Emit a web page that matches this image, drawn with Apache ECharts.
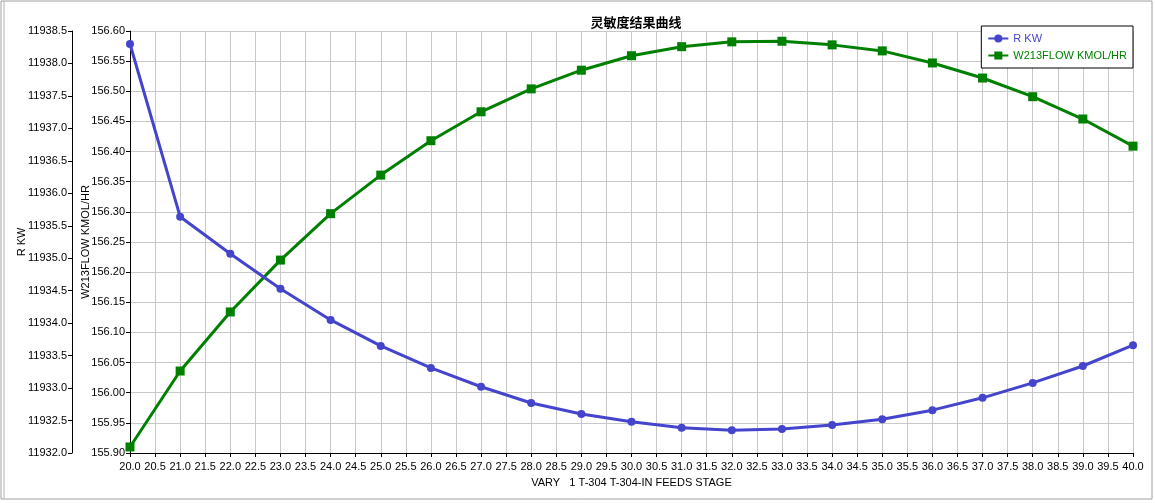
<!DOCTYPE html>
<html>
<head>
<meta charset="utf-8">
<script src="https://cdn.jsdelivr.net/npm/echarts@6/dist/echarts.min.js"></script>
<style>
  html, body { margin: 0; padding: 0; background: #fff; }
  #chart { width: 1155px; height: 503px; }
</style>
</head>
<body>
<div id="chart"></div>
<script>
// ---- data ----
const stages = [20, 21, 22, 23, 24, 25, 26, 27, 28, 29, 30, 31, 32, 33, 34, 35, 36, 37, 38, 39, 40];
const rKW = [11938.30, 11935.64, 11935.07, 11934.53, 11934.05, 11933.65, 11933.31, 11933.02, 11932.77, 11932.60,
             11932.48, 11932.39, 11932.35, 11932.37, 11932.43, 11932.52, 11932.66, 11932.85, 11933.08, 11933.34, 11933.66];
const w213Flow = [155.910, 156.036, 156.134, 156.220, 156.297, 156.361, 156.418, 156.466, 156.504, 156.535,
                  156.559, 156.574, 156.582, 156.583, 156.577, 156.567, 156.547, 156.522, 156.491, 156.454, 156.409];
const titleText = '灵敏度结果曲线';
const seriesNames = ['R KW', 'W213FLOW KMOL/HR'];
const xAxisName = 'VARY   1 T-304 T-304-IN FEEDS STAGE';

const FONT = "'Liberation Sans', Arial, sans-serif";
const BLUE = '#4444cc';
const GREEN = '#008000';

const chart = echarts.init(document.getElementById('chart'), null, { renderer: 'canvas' });
chart.setOption({
  animation: false,
  backgroundColor: '#fff',
  textStyle: { fontFamily: FONT },
  title: {
    text: titleText,
    left: 631, top: 11,
    textAlign: 'center',
    textStyle: { fontSize: 13, fontWeight: 'bold', color: '#000', fontFamily: "'Noto Sans CJK SC', sans-serif" }
  },
  legend: {
    right: 22, top: 26,
    orient: 'vertical',
    backgroundColor: '#fff',
    borderColor: '#000',
    borderWidth: 1,
    borderRadius: 0,
    padding: [7, 6, 7, 6],
    itemGap: 6,
    itemWidth: 20,
    itemHeight: 10,
    textStyle: { fontSize: 11, fontFamily: FONT },
    data: [
      { name: seriesNames[0], textStyle: { color: BLUE } },
      { name: seriesNames[1], textStyle: { color: GREEN } }
    ]
  },
  grid: { left: 130, right: 22, top: 31, bottom: 50, containLabel: false },
  xAxis: {
    type: 'value',
    min: 20, max: 40, interval: 0.5,
    name: xAxisName,
    nameLocation: 'middle',
    nameGap: 24,
    nameMoveOverlap: false,
    nameTextStyle: { fontSize: 11, color: '#000', fontFamily: FONT },
    axisLine: { show: true, lineStyle: { color: '#000', width: 1 } },
    axisTick: { show: true, length: 4, lineStyle: { color: '#000' } },
    axisLabel: { fontSize: 11, color: '#000', margin: 8, formatter: v => v.toFixed(1), showMinLabel: true, showMaxLabel: true },
    splitLine: { show: true, lineStyle: { color: '#c8c8c8', width: 1 } }
  },
  yAxis: [
    {
      type: 'value',
      position: 'left',
      offset: 58,
      min: 11932, max: 11938.5, interval: 0.5,
      name: seriesNames[0],
      nameLocation: 'middle',
      nameGap: 45,
      nameMoveOverlap: false,
      nameTextStyle: { fontSize: 11, color: '#000', fontFamily: FONT },
      axisLine: { show: true, lineStyle: { color: '#000', width: 1 } },
      axisTick: { show: true, length: 4, lineStyle: { color: '#000' } },
      axisLabel: { fontSize: 11, color: '#000', margin: 5, formatter: v => v.toFixed(1) },
      splitLine: { show: false }
    },
    {
      type: 'value',
      position: 'left',
      offset: 0,
      min: 155.90, max: 156.60, interval: 0.05,
      name: seriesNames[1],
      nameLocation: 'middle',
      nameGap: 39,
      nameMoveOverlap: false,
      nameTextStyle: { fontSize: 11, color: '#000', fontFamily: FONT },
      axisLine: { show: true, lineStyle: { color: '#000', width: 1 } },
      axisTick: { show: true, length: 4, lineStyle: { color: '#000' } },
      axisLabel: { fontSize: 11, color: '#000', margin: 5, formatter: v => v.toFixed(2) },
      splitLine: { show: true, lineStyle: { color: '#c8c8c8', width: 1 } }
    }
  ],
  series: [
    {
      name: seriesNames[0],
      type: 'line',
      yAxisIndex: 0,
      data: stages.map((s, i) => [s, rKW[i]]),
      symbol: 'circle',
      symbolSize: 8,
      lineStyle: { color: BLUE, width: 3 },
      itemStyle: { color: BLUE },
      z: 3
    },
    {
      name: seriesNames[1],
      type: 'line',
      yAxisIndex: 1,
      data: stages.map((s, i) => [s, w213Flow[i]]),
      symbol: 'rect',
      symbolSize: 9,
      lineStyle: { color: GREEN, width: 3 },
      itemStyle: { color: GREEN },
      z: 2
    }
  ],
  graphic: [
    { type: 'rect', shape: { x: 1, y: 1, width: 1151, height: 498 }, style: { fill: 'none', stroke: '#a0a0a0', lineWidth: 1 }, silent: true },
    { type: 'line', shape: { x1: 4, y1: 1, x2: 4, y2: 499 }, style: { stroke: '#b0b0b0', lineWidth: 1 }, silent: true }
  ]
});
</script>
</body>
</html>
